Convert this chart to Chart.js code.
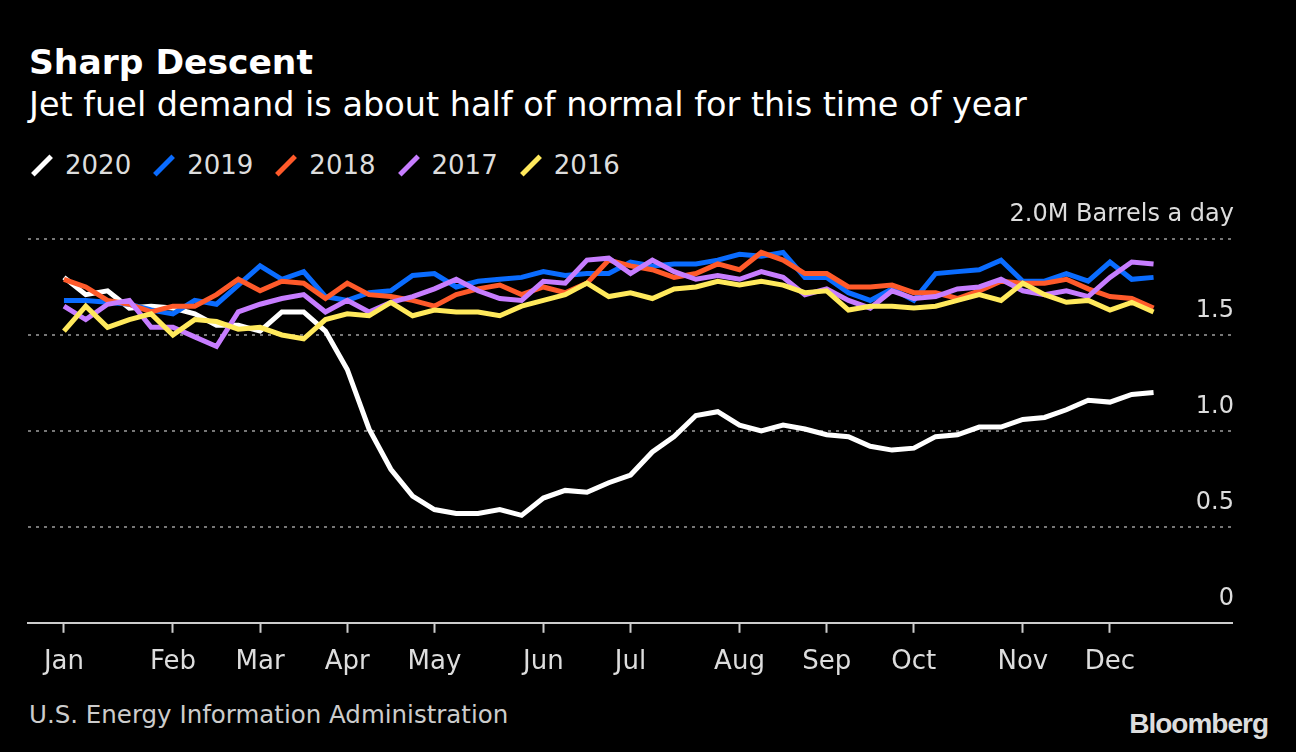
<!DOCTYPE html>
<html>
<head>
<meta charset="utf-8">
<script src="https://cdn.jsdelivr.net/npm/chart.js@4"></script>
<style>
  html, body { margin: 0; padding: 0; background: #000; width: 1296px; height: 752px; overflow: hidden; }
  body { font-family: "DejaVu Sans", sans-serif; color: #fff; position: relative; }
  #title { position: absolute; left: 29px; top: 42px; font-size: 34.5px; font-weight: bold; }
  #sub { position: absolute; left: 29px; top: 85px; font-size: 33.5px; }
  #legend { position: absolute; left: 29px; top: 150px; font-size: 26px; color: #ddd; display: flex; }
  #legend span { margin-right: 20px; display: flex; align-items: center; }
  #legend i { display: inline-block; width: 26px; height: 5px; transform: rotate(-45deg); margin-right: 10px; }
  #src { position: absolute; left: 29px; top: 700px; font-size: 24.5px; color: #ccc; }
  #logo { position: absolute; right: 28px; top: 708px; font-size: 28px; font-weight: bold; color: #ddd; font-family: "Liberation Sans", sans-serif; letter-spacing: -1px; }
  #c { position: absolute; left: 0; top: 0; }
</style>
</head>
<body>
<div id="title">Sharp Descent</div>
<div id="sub">Jet fuel demand is about half of normal for this time of year</div>
<div id="legend"></div>
<div id="src">U.S. Energy Information Administration</div>
<div id="logo">Bloomberg</div>
<canvas id="c" width="1296" height="752"></canvas>
<script>
// weekly index positions of month labels
const months = ['Jan', 'Feb', 'Mar', 'Apr', 'May', 'Jun', 'Jul', 'Aug', 'Sep', 'Oct', 'Nov', 'Dec'];
const monthIdx = [0, 5, 9, 13, 17, 22, 26, 31, 35, 39, 44, 48];
const yTicks = [0, 0.5, 1.0, 1.5, 2.0];

const y2020 = [1.80,1.71,1.73,1.64,1.65,1.64,1.61,1.55,1.55,1.52,1.62,1.62,1.52,1.32,1.01,0.80,0.66,0.59,0.57,0.57,0.59,0.56,0.65,0.69,0.68,0.73,0.77,0.89,0.97,1.08,1.10,1.03,1.00,1.03,1.01,0.98,0.97,0.92,0.90,0.91,0.97,0.98,1.02,1.02,1.06,1.07,1.11,1.16,1.15,1.19,1.20];
const y2019 = [1.68,1.68,1.67,1.66,1.63,1.61,1.68,1.66,1.76,1.86,1.79,1.83,1.70,1.68,1.72,1.73,1.81,1.82,1.75,1.78,1.79,1.80,1.83,1.81,1.82,1.82,1.88,1.86,1.87,1.87,1.89,1.92,1.91,1.93,1.80,1.80,1.72,1.68,1.74,1.68,1.82,1.83,1.84,1.89,1.78,1.78,1.82,1.78,1.88,1.79,1.80];
const y2018 = [1.79,1.75,1.68,1.66,1.62,1.65,1.65,1.71,1.79,1.73,1.78,1.77,1.69,1.77,1.71,1.70,1.68,1.65,1.71,1.74,1.76,1.71,1.75,1.72,1.77,1.89,1.86,1.84,1.80,1.82,1.87,1.84,1.93,1.89,1.82,1.82,1.75,1.75,1.76,1.72,1.72,1.69,1.73,1.78,1.77,1.77,1.79,1.74,1.70,1.69,1.64];
const y2017 = [1.65,1.58,1.66,1.68,1.54,1.54,1.49,1.44,1.62,1.66,1.69,1.71,1.62,1.68,1.62,1.67,1.70,1.74,1.79,1.73,1.69,1.68,1.78,1.77,1.89,1.90,1.82,1.89,1.83,1.79,1.81,1.79,1.83,1.80,1.71,1.74,1.68,1.64,1.73,1.69,1.70,1.74,1.75,1.79,1.73,1.71,1.73,1.70,1.80,1.88,1.87];
const y2016 = [1.52,1.65,1.54,1.58,1.61,1.50,1.58,1.57,1.53,1.54,1.50,1.48,1.58,1.61,1.60,1.67,1.60,1.63,1.62,1.62,1.60,1.65,1.68,1.71,1.77,1.70,1.72,1.69,1.74,1.75,1.78,1.76,1.78,1.76,1.72,1.73,1.63,1.65,1.65,1.64,1.65,1.68,1.71,1.68,1.77,1.71,1.67,1.68,1.63,1.67,1.62];

const series = [
  { label: '2020', data: y2020, color: '#ffffff' },
  { label: '2019', data: y2019, color: '#0a6cff' },
  { label: '2018', data: y2018, color: '#ff5a2a' },
  { label: '2017', data: y2017, color: '#c77dff' },
  { label: '2016', data: y2016, color: '#ffe95c' }
];

const legend = document.getElementById('legend');
series.forEach(s => {
  const el = document.createElement('span');
  el.innerHTML = '<i style="background:' + s.color + '"></i>' + s.label;
  legend.appendChild(el);
});

// draw back to front so 2020 ends on top
const datasets = series.slice().reverse().map(s => ({
  label: s.label,
  data: s.data.map((v, i) => ({ x: i, y: v })),
  borderColor: s.color,
  borderWidth: 5,
  pointRadius: 0,
  tension: 0,
  borderJoinStyle: 'miter'
}));

const yLabels = {
  id: 'yLabels',
  afterDraw(chart) {
    const c = chart.ctx, ys = chart.scales.y, a = chart.chartArea;
    c.save();
    c.font = '24px "DejaVu Sans"';
    c.fillStyle = '#ddd';
    c.textAlign = 'right';
    c.textBaseline = 'bottom';
    yTicks.forEach(v => {
      const t = v === 2 ? '2.0M Barrels a day' : (v === 0 ? '0' : v.toFixed(1));
      c.fillText(t, a.right + 2, ys.getPixelForValue(v) - 12);
    });
    c.restore();
  }
};

new Chart(document.getElementById('c'), {
  type: 'line',
  data: { datasets },
  options: {
    responsive: false,
    animation: false,
    layout: { padding: { left: 28, right: 64, top: 239, bottom: 60 } },
    plugins: { legend: { display: false }, tooltip: { enabled: false } },
    scales: {
      x: {
        type: 'linear',
        min: -1.65,
        max: 53.6,
        afterBuildTicks: s => { s.ticks = monthIdx.map(v => ({ value: v })); },
        ticks: {
          color: '#ddd',
          font: { family: 'DejaVu Sans', size: 26 },
          padding: 14,
          autoSkip: false,
          maxRotation: 0,
          callback: v => months[monthIdx.indexOf(v)]
        },
        grid: { drawOnChartArea: false, color: '#ccc', tickLength: 10, tickWidth: 2 },
        border: { color: '#ccc', width: 2 }
      },
      y: {
        min: 0,
        max: 2,
        display: true,
        position: 'right',
        afterBuildTicks: s => { s.ticks = yTicks.filter(v => v > 0).map(v => ({ value: v })); },
        ticks: { display: false },
        grid: { color: '#777', lineWidth: 2, drawTicks: false },
        border: { display: false, dash: [3, 5] }
      }
    }
  },
  plugins: [yLabels]
});
</script>
</body>
</html>
